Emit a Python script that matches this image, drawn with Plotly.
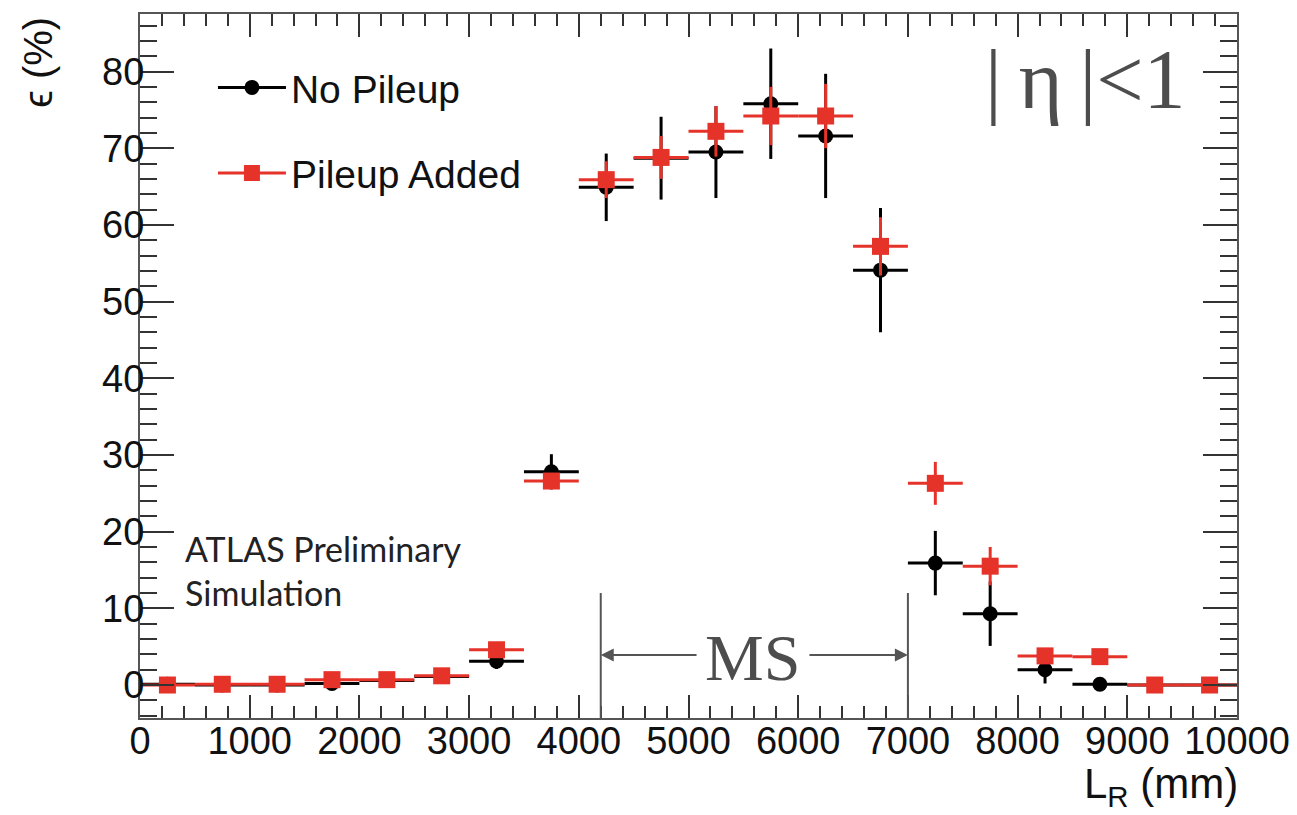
import plotly.graph_objects as go

# ---- data ----
lr_centers = [250, 750, 1250, 1750, 2250, 2750, 3250, 3750, 4250, 4750,
              5250, 5750, 6250, 6750, 7250, 7750, 8250, 8750, 9250, 9750]
bin_half_width = [250] * 20

eff_no_pileup = [0.1, 0.0, 0.0, 0.2, 0.6, 1.1, 3.1, 27.8, 64.9, 68.7,
                 69.5, 75.8, 71.6, 54.1, 15.9, 9.3, 2.0, 0.1, 0.0, 0.0]
err_no_pileup = [0.4, 0.2, 0.2, 0.5, 0.5, 0.7, 1.0, 2.3, 4.4, 5.4,
                 6.0, 7.2, 8.1, 8.1, 4.2, 4.2, 1.8, 0.3, 0.0, 0.0]

eff_pileup = [0.0, 0.1, 0.1, 0.7, 0.7, 1.2, 4.6, 26.6, 65.9, 68.8,
              72.2, 74.2, 74.2, 57.2, 26.3, 15.5, 3.8, 3.7, 0.0, 0.0]
err_pileup = [0.3, 0.2, 0.2, 0.4, 0.4, 0.5, 0.8, 1.0, 2.4, 2.8,
              3.3, 3.8, 4.2, 3.8, 2.8, 2.5, 1.0, 0.8, 0.2, 0.2]

series_names = ["No Pileup", "Pileup Added"]
ms_region = [4200, 7000]

BLACK = "#000000"
RED = "#e6332a"
AXIS_COL = "#555555"
TXT_GRAY = "#4d4d4d"
SANS = "Liberation Sans, Arial, sans-serif"
SERIF = "Liberation Serif, Times New Roman, serif"

fig = go.Figure()

fig.add_trace(go.Scatter(
    x=lr_centers, y=eff_no_pileup, mode="markers", showlegend=False,
    marker=dict(symbol="circle", size=15, color=BLACK),
    error_x=dict(type="data", array=bin_half_width, width=0, thickness=3, color=BLACK),
    error_y=dict(type="data", array=err_no_pileup, width=0, thickness=3, color=BLACK),
    name=series_names[0]))

fig.add_trace(go.Scatter(
    x=lr_centers, y=eff_pileup, mode="markers", showlegend=False,
    marker=dict(symbol="square", size=17, color=RED),
    error_x=dict(type="data", array=bin_half_width, width=0, thickness=3, color=RED),
    error_y=dict(type="data", array=err_pileup, width=0, thickness=3, color=RED),
    name=series_names[1]))

# legend entries
fig.add_trace(go.Scatter(
    x=[None], y=[None], mode="lines+markers", name=series_names[0],
    legendgroup="a",
    line=dict(color=BLACK, width=3),
    marker=dict(symbol="circle", size=15, color=BLACK)))
fig.add_trace(go.Scatter(
    x=[None], y=[None], mode="lines+markers", name=series_names[1],
    legendgroup="b",
    line=dict(color=RED, width=3),
    marker=dict(symbol="square", size=17, color=RED)))

# MS region markers
for xv in ms_region:
    fig.add_shape(type="line", xref="x", yref="y", x0=xv, x1=xv, y0=-4.3, y1=12.0,
                  line=dict(color=AXIS_COL, width=2))

fig.add_annotation(x=ms_region[0], y=3.9, ax=5087, ay=3.9, xref="x", yref="y",
                   axref="x", ayref="y", text="", showarrow=True, arrowhead=2,
                   arrowsize=1.3, arrowwidth=2, arrowcolor=AXIS_COL, standoff=0)
fig.add_annotation(x=ms_region[1], y=3.9, ax=6089, ay=3.9, xref="x", yref="y",
                   axref="x", ayref="y", text="", showarrow=True, arrowhead=2,
                   arrowsize=1.3, arrowwidth=2, arrowcolor=AXIS_COL, standoff=0)
fig.add_annotation(x=5580, y=3.6, xref="x", yref="y", text="MS", showarrow=False,
                   xanchor="center", yanchor="middle",
                   font=dict(family=SERIF, size=66, color=TXT_GRAY))

# |eta| < 1
fig.add_annotation(x=0.955, y=0.907, xref="paper", yref="paper",
                   text="|\u2009\u03b7\u2009|<1", showarrow=False,
                   xanchor="right", yanchor="middle",
                   font=dict(family=SERIF, size=84, color=TXT_GRAY))

# ATLAS label
fig.add_annotation(x=390, y=17.8, xref="x", yref="y", text="ATLAS Preliminary",
                   showarrow=False, xanchor="left", yanchor="middle",
                   font=dict(family="Lato, sans-serif", size=34, color="#222222"))
fig.add_annotation(x=390, y=12.1, xref="x", yref="y", text="Simulation",
                   showarrow=False, xanchor="left", yanchor="middle",
                   font=dict(family="Lato, sans-serif", size=34, color="#222222"))

# axis titles
fig.add_annotation(x=-0.093, y=0.932, xref="paper", yref="paper",
                   text="\u03f5 (%)", textangle=-90, showarrow=False,
                   xanchor="center", yanchor="middle",
                   font=dict(family=SANS, size=40, color="#111111"))
fig.add_annotation(x=1.003, y=-0.098, xref="paper", yref="paper",
                   text="L<sub>R</sub> (mm)", showarrow=False,
                   xanchor="right", yanchor="middle",
                   font=dict(family=SANS, size=42, color="#111111"))

fig.update_layout(
    width=1289, height=807,
    margin=dict(l=132, r=60, t=4, b=97),
    paper_bgcolor="white", plot_bgcolor="white",
    showlegend=True,
    legend=dict(x=0.0665, y=0.941, xanchor="left", yanchor="top",
                bgcolor="rgba(0,0,0,0)", borderwidth=0,
                font=dict(family=SANS, size=39, color="#111111"),
                itemwidth=68, tracegroupgap=32),
    xaxis=dict(range=[0, 10000], dtick=1000, tick0=0, tickformat="d",
               ticks="inside", ticklen=23, tickwidth=2, tickcolor="#333333",
               ticklabelstandoff=-12,
               showline=True, linecolor=AXIS_COL, linewidth=2, mirror="allticks",
               showgrid=False, zeroline=False,
               minor=dict(dtick=200, ticks="inside", ticklen=12, tickwidth=2,
                          tickcolor="#333333", showgrid=False),
               tickfont=dict(family=SANS, size=38, color="#111111")),
    yaxis=dict(range=[-4.3, 87.5], dtick=10, tick0=0,
               ticks="inside", ticklen=34, tickwidth=2, tickcolor="#333333",
               ticklabelstandoff=-14,
               showline=True, linecolor=AXIS_COL, linewidth=2, mirror="allticks",
               showgrid=False, zeroline=False,
               minor=dict(dtick=2, ticks="inside", ticklen=17, tickwidth=2,
                          tickcolor="#333333", showgrid=False),
               tickfont=dict(family=SANS, size=38, color="#111111")),
)

fig.write_html("out.html")
